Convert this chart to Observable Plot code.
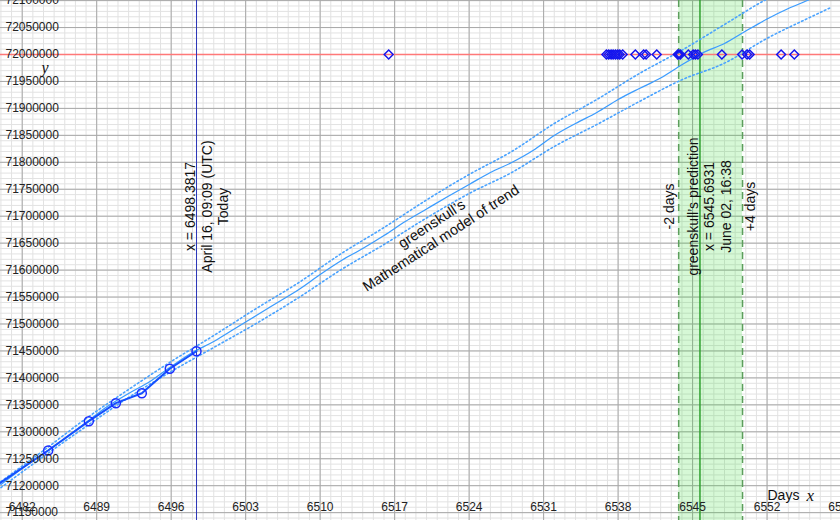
<!DOCTYPE html>
<html>
<head>
<meta charset="utf-8">
<script src="https://cdn.jsdelivr.net/npm/d3@7"></script>
<script src="https://cdn.jsdelivr.net/npm/@observablehq/plot@0.6"></script>
<style>
  html, body { margin: 0; padding: 0; background: #fff; }
  #chart { width: 840px; height: 520px; overflow: hidden; }
</style>
</head>
<body>
<div id="chart"></div>
<script>
// ---------- data ----------
const xTicks = [6482, 6489, 6496, 6503, 6510, 6517, 6524, 6531, 6538, 6545, 6552, 6559];
const yTicks = [71150000, 71200000, 71250000, 71300000, 71350000, 71400000, 71450000, 71500000,
  71550000, 71600000, 71650000, 71700000, 71750000, 71800000, 71850000, 71900000, 71950000,
  72000000, 72050000, 72100000];

const target = 72000000;
const today = 6498.3817;
const prediction = 6545.6931;
const predLow = 6543.6931;   // -2 days
const predHigh = 6549.6931;  // +4 days

// observed values (circles + thick line)
const obsDays   = [6478.5, 6484.44, 6488.26, 6490.80, 6493.24, 6495.87, 6498.38];
const obsValues = [71186300, 71265300, 71319700, 71353100, 71371600, 71416900, 71449500];

// model of trend (solid light-blue line)
const modelDays = [6480, 6482, 6484, 6486, 6488, 6490, 6492, 6494, 6496, 6498, 6500, 6502, 6504,
  6506, 6508, 6510, 6512, 6514, 6516, 6518, 6520, 6522, 6524, 6526, 6528, 6530, 6532, 6534, 6536,
  6538, 6540, 6542, 6544, 6546, 6548, 6550, 6552, 6554, 6556, 6558];
const modelValues = [71202200, 71231900, 71259700, 71287600, 71317200, 71346900, 71371100, 71393300,
  71421100, 71447100, 71467500, 71491600, 71515800, 71539900, 71564000, 71591800, 71617800,
  71640100, 71664200, 71690200, 71713400, 71736500, 71758800, 71781100, 71799600, 71821900,
  71849700, 71872000, 71892400, 71916500, 71936900, 71956400, 71981000, 72003500, 72020400,
  72043600, 72065900, 72085300, 72102000, 72120600];

// model band (dotted lines)
const bandDays  = [6480, 6484, 6488, 6492, 6496, 6500, 6504, 6508, 6512, 6516, 6520, 6524, 6528,
  6532, 6536, 6540, 6544, 6548, 6552, 6556, 6558];
const bandUpper = [71207800, 71265300, 71324600, 71378500, 71430400, 71478600, 71528800, 71577000,
  71630800, 71679000, 71730100, 71777400, 71820000, 71872000, 71916500, 71964700, 72008000,
  72055700, 72103000, 72139100, 72157700];
const bandLower = [71196600, 71254100, 71309800, 71363700, 71411800, 71456400, 71501000, 71549200,
  71601100, 71647500, 71696700, 71742100, 71781000, 71829300, 71870100, 71912800, 71953200,
  71984000, 72030000, 72068600, 72087200];

// other people's guesses (diamonds on the target line)
const guessDays = [6516.44, 6536.90, 6537.12, 6537.34, 6537.53, 6537.75, 6537.96, 6538.15, 6538.43,
  6539.62, 6540.40, 6540.63, 6541.63, 6543.60, 6543.71, 6543.85, 6544.60, 6545.05, 6545.26,
  6545.50, 6547.75, 6549.65, 6550.12, 6550.36, 6553.32, 6554.56];

// ---------- derived tables ----------
const obs = obsDays.map((d, i) => ({x: d, y: obsValues[i]}));
const model = modelDays.map((d, i) => ({x: d, y: modelValues[i]}));
const upper = bandDays.map((d, i) => ({x: d, y: bandUpper[i]}));
const lower = bandDays.map((d, i) => ({x: d, y: bandLower[i]}));
const guesses = guessDays.map(d => ({x: d, y: target}));

const xMinor = d3.range(6479, 6560, 1);
const yMinor = d3.range(71130000, 72110001, 10000);

const FONT = "'Liberation Sans', Arial, Helvetica, sans-serif";
const SERIF = "'Liberation Serif', 'Times New Roman', serif";

const chart = Plot.plot({
  width: 840,
  height: 520,
  margin: 0,
  x: {domain: [6479.96, 6558.9], axis: null},
  y: {domain: [71135430, 72100186], axis: null},
  style: {fontFamily: FONT, fontSize: "12px", background: "#fff", overflow: "hidden"},
  marks: [
    // grid
    Plot.ruleX(xMinor, {stroke: "#e2e2e2", strokeWidth: 1}),
    Plot.ruleY(yMinor, {stroke: "#e2e2e2", strokeWidth: 1}),
    Plot.ruleX(xTicks, {stroke: "#a8a8a8", strokeWidth: 1}),
    Plot.ruleY(yTicks, {stroke: "#a8a8a8", strokeWidth: 1}),
    // prediction band
    Plot.rect([{x1: predLow, x2: predHigh}], {x1: "x1", x2: "x2", fill: "#33dd33", fillOpacity: 0.2}),
    Plot.ruleX([predLow, predHigh], {stroke: "#5c9e5c", strokeWidth: 1.5, strokeDasharray: "7,5"}),
    Plot.ruleX([prediction], {stroke: "#2fa02f", strokeWidth: 1.5}),
    // target line
    Plot.ruleY([target], {stroke: "#ff7878", strokeWidth: 1.6}),
    // today line
    Plot.ruleX([today], {stroke: "#2b35b8", strokeWidth: 1}),
    // model
    Plot.line(upper, {x: "x", y: "y", stroke: "#4aa3ff", strokeWidth: 1.6, strokeDasharray: "1.6,2.6", curve: "monotone-x"}),
    Plot.line(lower, {x: "x", y: "y", stroke: "#4aa3ff", strokeWidth: 1.6, strokeDasharray: "1.6,2.6", curve: "monotone-x"}),
    Plot.line(model, {x: "x", y: "y", stroke: "#3b9cff", strokeWidth: 1.3, curve: "monotone-x"}),
    // observations
    Plot.line(obs, {x: "x", y: "y", stroke: "#1450ff", strokeWidth: 2}),
    Plot.dot(obs, {x: "x", y: "y", r: 4.5, stroke: "#1a2cff", strokeWidth: 1.5, fill: "none"}),
    // guesses
    Plot.dot(guesses, {x: "x", y: "y", symbol: "diamond2", r: 4, stroke: "#1515ee", strokeWidth: 1.5, fill: "none"}),
    // tick labels
    Plot.text(yTicks, {y: d => d, text: d => String(d), frameAnchor: "left", textAnchor: "start", dx: 5, fill: "#222", fontSize: 12}),
    Plot.text(xTicks, {x: d => d, text: d => String(d), frameAnchor: "bottom", lineAnchor: "middle", dy: -13, fill: "#222", fontSize: 12}),
    // axis names
    Plot.text(["y"], {frameAnchor: "top-left", dx: 41, dy: 61, fontFamily: SERIF, fontStyle: "italic", fontSize: 16, fill: "#111"}),
    Plot.text(["Days"], {frameAnchor: "top-left", dx: 767, dy: 490, textAnchor: "start", fontSize: 14, fill: "#111"}),
    Plot.text(["x"], {frameAnchor: "top-left", dx: 806, dy: 488, fontFamily: SERIF, fontStyle: "italic", fontSize: 17, fill: "#111"}),
    // annotations
    Plot.text([{x: today, y: 71718000}], {x: "x", y: "y", dx: 10,
      text: () => "x = 6498.3817\nApril 16, 09:09 (UTC)\nToday",
      rotate: -90, fontSize: 14, lineHeight: 1.18, textAnchor: "middle", lineAnchor: "middle", fill: "#111"}),
    Plot.text([{x: predLow, y: 71718000}], {x: "x", y: "y", dx: -9, text: () => "-2 days",
      rotate: -90, fontSize: 14, textAnchor: "middle", lineAnchor: "middle", fill: "#111"}),
    Plot.text([{x: predHigh, y: 71718000}], {x: "x", y: "y", dx: 8, text: () => "+4 days",
      rotate: -90, fontSize: 14, textAnchor: "middle", lineAnchor: "middle", fill: "#111"}),
    Plot.text([{x: prediction, y: 71718000}], {x: "x", y: "y", dx: 9,
      text: () => "greenskull’s prediction\nx = 6545.6931\nJune 02, 16:38",
      rotate: -90, fontSize: 14, lineHeight: 1.18, textAnchor: "middle", lineAnchor: "middle", fill: "#111"}),
    Plot.text([{x: 6520.88, y: 71673500}], {x: "x", y: "y",
      text: () => "greenskull’s\nMathematical model of trend",
      rotate: -33, fontSize: 14.5, lineHeight: 1.18, textAnchor: "middle", lineAnchor: "middle", fill: "#111"})
  ]
});
document.getElementById("chart").appendChild(chart);
</script>
</body>
</html>
